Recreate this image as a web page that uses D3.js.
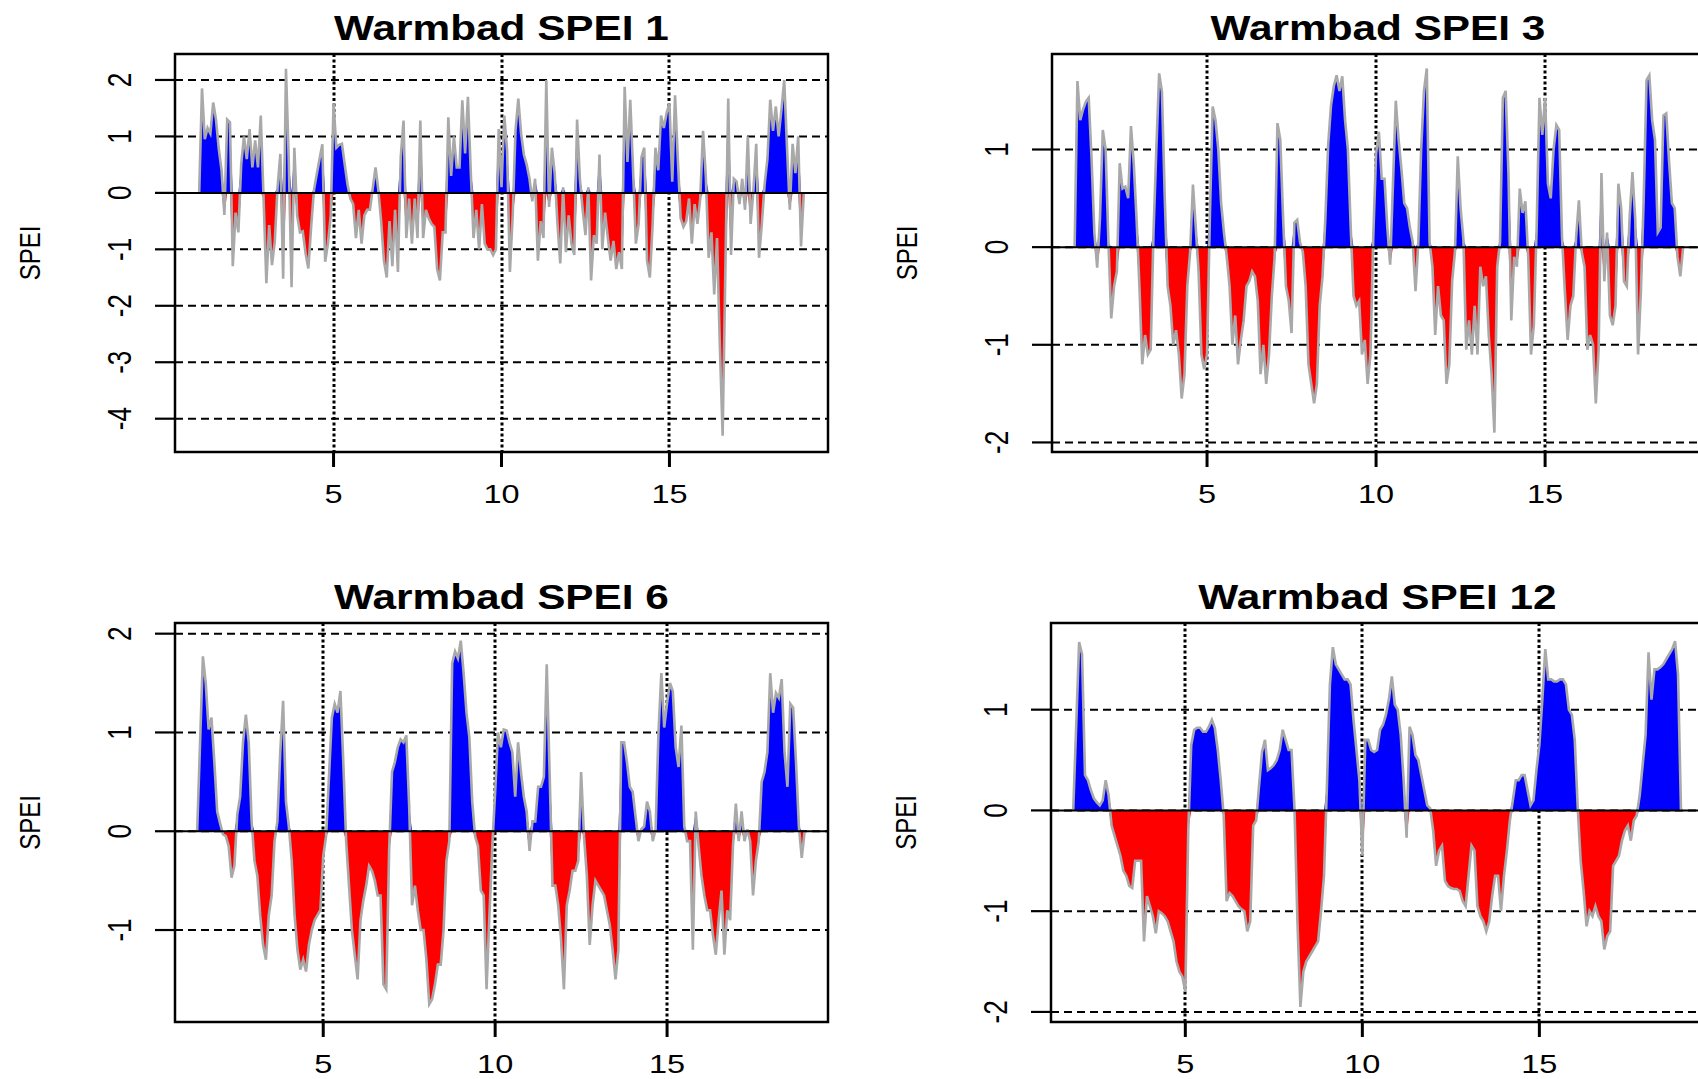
<!DOCTYPE html>
<html>
<head>
<meta charset="utf-8">
<script src="https://cdn.jsdelivr.net/npm/d3@7"></script>
<style>
body { margin: 0; background: #fff; }
svg { display: block; }
text { font-family: "Liberation Sans", Arial, sans-serif; fill: #000; }
</style>
</head>
<body>
<svg id="chart" width="1698" height="1079"></svg>
<script>
// monthly SPEI values
const spei1 = [1.85,0.95,1.15,1.05,1.6,1.3,0.78,0.4,-0.39,1.3,
1.25,-1.3,-0.35,-0.7,0.5,1.0,0.6,1.13,0.45,0.93,
0.45,1.37,-0.1,-1.6,-0.57,-1.28,-0.87,0.1,0.69,-1.52,
2.2,0.58,-1.67,0.8,-0.4,-0.7,-0.68,-1.07,-1.34,-0.6,
0.05,0.33,0.6,0.86,-1.22,-0.9,-0.4,1.58,0.8,0.85,
0.87,0.5,0.15,-0.1,-0.2,-0.8,-0.3,-0.9,-0.4,-0.3,
-0.3,0.08,0.45,0.05,-0.5,-1.2,-1.5,-0.5,-1.3,-0.3,
-1.4,0.63,1.28,-0.8,-0.1,-0.9,-0.1,-0.8,1.28,-0.8,
-0.3,-0.45,-0.55,-0.6,-1.35,-1.55,-0.7,-0.7,1.34,0.3,
1.0,0.45,0.45,1.64,0.7,1.7,0.4,-0.8,-0.3,-1.0,
-0.2,-0.9,-1.0,-1.0,-1.1,-1.0,1.13,0.1,1.37,0.75,
-1.4,-0.4,1.1,1.67,1.05,0.68,0.5,0.25,-0.15,0.25,
-1.2,-0.5,-0.8,2.0,-0.25,0.8,0.35,-0.55,-1.25,0.1,
-1.05,-0.4,-0.9,-1.1,1.3,0.25,-0.3,-0.75,0.1,-1.55,
-0.75,-0.9,0.68,-1.0,-0.35,-0.8,-1.2,-0.85,-1.35,-1.05,
-1.35,1.88,0.55,1.65,0.4,-0.9,-0.55,0.63,0.8,-1.2,
-1.5,-0.55,0.8,0.4,1.37,1.15,1.42,1.58,0.2,1.73,
0.6,-0.45,-0.6,-0.5,-0.1,-0.9,-0.2,-0.55,-0.1,1.1,
0.28,-1.15,-0.7,-1.8,-0.8,-2.7,-4.3,-1.28,1.67,-1.1,
0.25,0.2,-0.2,0.25,-0.3,1.0,-0.55,0.05,0.87,-1.15,
-0.55,0.15,0.6,1.65,1.1,1.53,1.0,1.47,2.0,0.8,
-0.3,0.87,0.35,1.0,-0.95];

const spei3 = [1.7,1.3,1.41,1.49,1.53,0.91,0.15,-0.21,0.3,1.2,
1.0,0.05,-0.73,-0.4,-0.25,0.86,0.6,0.62,0.5,1.24,
0.85,0.28,-0.4,-1.2,-0.9,-1.1,-1.05,0.15,1.0,1.78,
1.59,0.5,-0.4,-0.6,-1.0,-0.85,-1.1,-1.55,-1.3,-0.4,
-0.05,0.64,0.2,-0.25,-1.1,-1.25,-1.1,0.3,1.44,1.3,
1.0,0.45,0.15,-0.1,-0.4,-1.0,-0.7,-1.2,-0.95,-0.75,
-0.4,-0.35,-0.25,-0.3,-0.55,-1.3,-1.0,-1.4,-1.1,-0.5,
-0.1,1.27,1.1,0.3,-0.4,-0.55,-0.88,0.25,0.28,0.05,
-0.05,-0.4,-1.2,-1.4,-1.6,-1.4,-0.6,-0.3,0.3,1.05,
1.45,1.65,1.76,1.6,1.75,1.3,1.0,0.2,-0.5,-0.6,
-0.55,-1.1,-0.95,-1.4,-1.1,0.1,0.96,1.18,0.7,0.7,
0.2,-0.18,0.65,1.5,1.1,0.8,0.45,0.4,0.2,0.05,
-0.45,0.05,1.0,1.6,1.83,0.05,-0.2,-0.9,-0.4,-0.7,
-0.75,-1.4,-1.2,-0.35,-0.05,0.93,0.4,0.08,-1.05,-0.75,
-1.1,-0.6,-1.1,-0.2,-0.4,-0.3,-0.9,-1.3,-1.9,-0.2,
0.05,1.53,1.6,0.75,-0.75,-0.1,-0.2,0.6,0.35,0.47,
-0.1,-1.1,-0.8,0.2,1.53,1.15,1.53,0.65,0.5,1.0,
1.25,1.2,0.1,-0.45,-0.95,-0.6,-0.5,0.1,0.48,-0.05,
-0.2,-1.05,-0.9,-1.0,-1.6,-1.05,0.76,-0.35,0.15,-0.7,
-0.8,-0.6,0.65,0.4,-0.35,-0.4,0.3,0.77,0.28,-1.1,
-0.45,0.5,1.71,1.76,1.3,1.1,0.15,0.2,1.35,1.37,
0.88,0.45,0.4,-0.1,-0.3];

const spei6 = [0.88,1.77,1.5,1.03,1.15,0.7,0.2,0.08,-0.03,-0.05,
-0.15,-0.47,-0.35,0.17,0.35,0.9,1.18,0.9,0.1,-0.3,
-0.45,-0.85,-1.15,-1.3,-0.85,-0.65,-0.1,0.1,0.8,1.32,
0.3,0.05,-0.3,-0.85,-1.2,-1.4,-1.3,-1.42,-1.15,-1.0,
-0.9,-0.85,-0.8,-0.25,-0.05,0.55,1.15,1.29,1.2,1.42,
0.7,-0.1,-0.55,-1.0,-1.25,-1.5,-0.9,-0.7,-0.55,-0.35,
-0.4,-0.5,-0.65,-0.65,-1.55,-1.6,-0.2,0.6,0.7,0.85,
0.93,0.9,0.97,0.25,-0.75,-0.55,-0.8,-1.0,-1.0,-1.3,
-1.75,-1.7,-1.55,-1.35,-1.35,-1.0,-0.3,-0.1,1.7,1.82,
1.75,1.93,1.6,1.2,0.95,0.3,-0.05,-0.15,-0.6,-0.65,
-1.6,-0.85,-0.15,0.4,1.0,0.85,1.03,1.02,0.9,0.8,
0.35,0.9,0.6,0.35,0.2,-0.2,0.1,0.1,0.45,0.45,
0.55,1.69,0.6,-0.55,-0.55,-0.75,-1.1,-1.6,-0.75,-0.6,
-0.4,-0.4,-0.3,0.6,-0.05,-0.45,-1.15,-0.75,-0.5,-0.55,
-0.6,-0.65,-0.8,-0.95,-1.2,-1.5,-1.2,0.9,0.9,0.7,
0.45,0.4,0.15,-0.1,0.02,0.05,0.3,0.2,-0.1,0.02,
1.0,1.6,1.05,1.3,1.5,1.42,0.85,0.65,1.07,0.05,
-0.1,-0.1,-1.2,0.2,-0.15,-0.45,-0.65,-0.8,-0.8,-1.05,
-1.25,-0.9,-0.6,-1.25,-0.8,-0.9,-0.15,0.28,-0.1,0.2,
-0.1,0.02,-0.1,-0.65,-0.3,-0.1,0.5,0.6,0.8,1.6,
1.2,1.4,1.35,1.54,0.8,0.45,1.29,1.25,0.7,0.05,
-0.27];

const spei12 = [0.83,1.67,1.55,0.35,0.3,0.2,0.12,0.08,0.05,0.1,
0.3,0.15,-0.15,-0.25,-0.35,-0.45,-0.6,-0.65,-0.75,-0.77,
-0.5,-0.5,-0.5,-1.3,-0.85,-0.95,-1.05,-1.22,-1.0,-1.02,
-1.05,-1.1,-1.2,-1.3,-1.5,-1.6,-1.65,-1.8,-0.2,0.65,
0.8,0.82,0.82,0.78,0.78,0.83,0.9,0.82,0.6,0.3,
-0.05,-0.9,-0.82,-0.85,-0.9,-0.95,-0.98,-1.0,-1.2,-1.1,
-0.15,-0.1,0.25,0.58,0.7,0.4,0.42,0.45,0.5,0.6,
0.8,0.7,0.6,0.6,0.02,-1.1,-1.95,-1.6,-1.5,-1.45,
-1.4,-1.35,-1.3,-1.0,-0.65,0.25,1.25,1.62,1.45,1.4,
1.35,1.3,1.3,1.25,0.9,0.6,0.3,-0.45,0.7,0.7,
0.6,0.58,0.6,0.8,0.85,0.95,1.1,1.33,1.05,1.0,
0.75,0.3,-0.27,0.83,0.75,0.55,0.5,0.35,0.2,0.05,
0.02,-0.2,-0.55,-0.4,-0.35,-0.7,-0.75,-0.77,-0.78,-0.78,
-0.8,-0.9,-0.95,-0.65,-0.35,-0.4,-0.95,-1.05,-1.1,-1.2,
-1.1,-0.85,-0.65,-0.65,-1.0,-0.65,-0.4,-0.1,0.1,0.3,
0.3,0.35,0.35,0.2,0.05,0.1,0.4,0.65,1.1,1.6,
1.3,1.3,1.28,1.28,1.3,1.3,1.25,1.0,0.95,0.7,
0.03,-0.5,-0.8,-1.15,-1.0,-1.05,-0.95,-1.05,-1.1,-1.38,
-1.25,-1.2,-0.55,-0.5,-0.45,-0.3,-0.2,-0.15,-0.3,-0.1,
-0.05,0.15,0.45,0.75,1.57,1.1,1.4,1.4,1.42,1.45,
1.5,1.55,1.6,1.68,1.35];

const titles = ["Warmbad SPEI 1", "Warmbad SPEI 3", "Warmbad SPEI 6", "Warmbad SPEI 12"];
const series = [spei1, spei3, spei6, spei12];
const startTimes = [1 + 1/12, 1 + 2/12, 1 + 5/12, 1 + 11/12];
const xTicks = [5, 10, 15];
const yTicks = [[2, 1, 0, -1, -2, -3, -4], [1, 0, -1, -2], [2, 1, 0, -1], [1, 0, -1, -2]];
const xDomains = [[0.28, 19.72], [0.414, 19.70], [0.689, 19.68], [1.206, 19.65]];
const yDomains = [[-4.59, 2.46], [-2.098, 1.978], [-1.931, 2.108], [-2.10, 1.86]];

const boxes = [
    { x: 175, y: 54, w: 653, h: 398 },
    { x: 1052, y: 54, w: 652, h: 398 },
    { x: 175, y: 623, w: 653, h: 399 },
    { x: 1051, y: 623, w: 653, h: 399 }
];

const svg = d3.select("#chart");
const stretch = 1.25; // the source picture is widened horizontally

const label = (g, x, y, txt, size, opts = {}) => {
    const rot = opts.rotate ? " rotate(-90)" : "";
    return g.append("text")
        .attr("transform", `translate(${x},${y}) scale(${opts.sx || stretch},1)${rot}`)
        .attr("text-anchor", "middle")
        .attr("dominant-baseline", opts.baseline || "auto")
        .attr("font-size", size)
        .attr("font-weight", opts.bold ? "bold" : "normal")
        .text(txt);
};

series.forEach((values, k) => {
    const b = boxes[k];
    const x = d3.scaleLinear().domain(xDomains[k]).range([b.x, b.x + b.w]);
    const y = d3.scaleLinear().domain(yDomains[k]).range([b.y + b.h, b.y]);
    const g = svg.append("g");

    // padded like the SPEI plot: a zero before and after the series
    const t0 = startTimes[k];
    const datt = [0, ...values, 0].map((v, i) => ({ t: t0 + (i - 1) / 12, v }));

    // grid
    g.append("g").selectAll("line").data(yTicks[k]).enter().append("line")
        .attr("x1", b.x).attr("x2", b.x + b.w)
        .attr("y1", d => y(d)).attr("y2", d => y(d))
        .attr("stroke", "#000").attr("stroke-width", 2)
        .attr("stroke-dasharray", "8 5");
    g.append("g").selectAll("line").data(xTicks).enter().append("line")
        .attr("x1", d => Math.round(x(d))).attr("x2", d => Math.round(x(d)))
        .attr("y1", b.y).attr("y2", b.y + b.h)
        .attr("stroke", "#000").attr("stroke-width", 3)
        .attr("stroke-dasharray", "3 2.5");

    const areaPos = d3.area().x(d => x(d.t)).y0(y(0)).y1(d => y(Math.max(d.v, 0)));
    const areaNeg = d3.area().x(d => x(d.t)).y0(y(0)).y1(d => y(Math.min(d.v, 0)));
    g.append("path").datum(datt).attr("d", areaPos).attr("fill", "#0000ff");
    g.append("path").datum(datt).attr("d", areaNeg).attr("fill", "#ff0000");

    g.append("path").datum(datt)
        .attr("d", d3.line().x(d => x(d.t)).y(d => y(d.v)))
        .attr("fill", "none").attr("stroke", "#a9a9a9").attr("stroke-width", 2.6);

    g.append("line")
        .attr("x1", b.x).attr("x2", b.x + b.w)
        .attr("y1", y(0)).attr("y2", y(0))
        .attr("stroke", "#000").attr("stroke-width", 2);

    g.append("rect")
        .attr("x", b.x).attr("y", b.y).attr("width", b.w).attr("height", b.h)
        .attr("fill", "none").attr("stroke", "#000").attr("stroke-width", 2.5);

    // axes
    const yAxis = g.append("g");
    yAxis.selectAll("line").data(yTicks[k]).enter().append("line")
        .attr("x1", b.x - 20).attr("x2", b.x)
        .attr("y1", d => y(d)).attr("y2", d => y(d))
        .attr("stroke", "#000").attr("stroke-width", 2.2);
    yTicks[k].forEach(d => label(yAxis, b.x - 56, y(d), d, 26, { rotate: true, baseline: "central" }));

    const xAxis = g.append("g");
    xAxis.selectAll("line").data(xTicks).enter().append("line")
        .attr("x1", d => x(d)).attr("x2", d => x(d))
        .attr("y1", b.y + b.h).attr("y2", b.y + b.h + 15)
        .attr("stroke", "#000").attr("stroke-width", 3);
    xTicks.forEach(d => label(xAxis, x(d), b.y + b.h + 51, d, 26));

    label(g, b.x + b.w / 2, b.y - 14, titles[k], 35, { bold: true, sx: 1.21 });
    label(g, b.x - 145, b.y + b.h / 2, "SPEI", 24, { rotate: true, baseline: "central" });
});
</script>
</body>
</html>
